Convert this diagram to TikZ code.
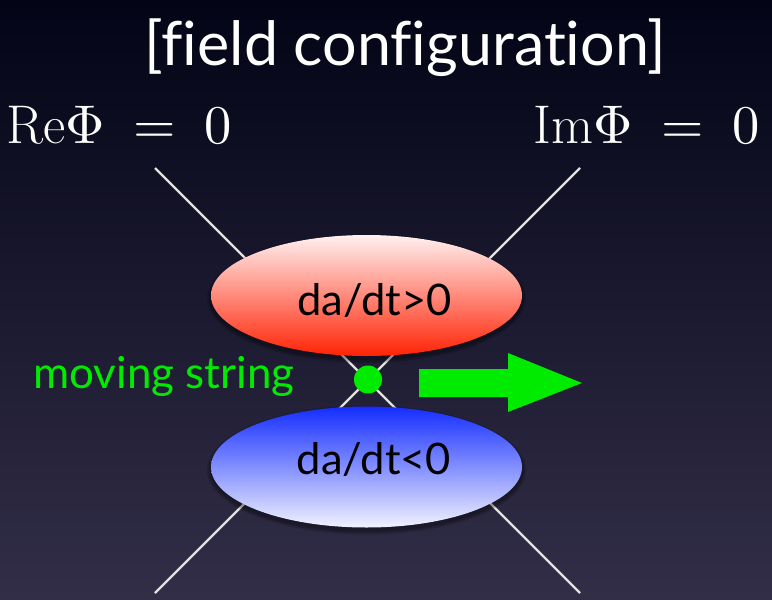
\documentclass[tikz,border=0pt]{standalone}
\usepackage{fontspec}
\usepackage{unicode-math}
\setmathfont{Latin Modern Math}
\setsansfont[Ligatures=NoCommon]{Lato}
\usetikzlibrary{shapes.geometric}
\definecolor{bgtop}{RGB}{3,4,22}
\definecolor{bgbot}{RGB}{50,46,72}
\definecolor{linec}{RGB}{225,225,225}
\definecolor{brightgreen}{RGB}{0,235,0}
\definecolor{redlight}{RGB}{255,240,240}
\definecolor{reddark}{RGB}{255,35,5}
\definecolor{bluedark}{RGB}{20,45,255}
\definecolor{bluelight}{RGB}{242,242,255}
\begin{document}
\begin{tikzpicture}[x=1pt,y=-1pt,
  fieldline/.style={draw=linec,line width=2.2pt},
  blob/.style={ellipse,minimum width=311pt,minimum height=121pt,inner sep=0pt},
  blobshadow/.style={ellipse,fill=black,fill opacity=0.14,inner sep=0pt},
  blobtext/.style={anchor=base,font=\fontsize{43.5}{47}\selectfont\sffamily,text=black},
  mathlabel/.style={anchor=base west,inner sep=0pt,text=white,font=\fontsize{54.5}{58}\selectfont}]
\useasboundingbox (0,0) rectangle (772,600);
\shade[top color=bgtop,bottom color=bgbot,middle color=bgtop!50!bgbot] (0,0) rectangle (772,600);
% title
\node[anchor=base,text=white,font=\fontsize{61}{65}\selectfont\sffamily] (title) at (405,65) {[field configuration]};
\node[mathlabel] (re) at (6,143) {$\mathrm{Re}\Phi\mskip4.5mu=\mskip4.5mu0$};
\node[mathlabel] (im) at (533,143) {$\mathrm{Im}\Phi\mskip4.5mu=\mskip4.5mu0$};
% crossing lines
\coordinate (tl) at (155,168);
\coordinate (tr) at (580,168);
\coordinate (bl) at (155,593);
\coordinate (br) at (580,593);
\draw[fieldline] (tl) -- (br);
\draw[fieldline] (tr) -- (bl);
% soft shadows
\foreach \d in {2,5,8} {
  \node[blobshadow,minimum width=311pt+\d pt,minimum height=121pt+\d pt] at (366.5,298.5) {};
  \node[blobshadow,minimum width=311pt+\d pt,minimum height=121pt+\d pt] at (366.5,470) {};
}
% ellipses
\node[blob,top color=redlight,bottom color=reddark] (pos) at (366.5,295.5) {};
\node[blob,top color=bluedark,bottom color=bluelight] (neg) at (366.5,467) {};
\node[blobtext] (postext) at (374.5,315) {da/dt>0};
\node[blobtext] (negtext) at (374,474) {da/dt<0};
% string
\node[circle,fill=brightgreen,minimum size=28pt,inner sep=0pt] (string) at (368,379.5) {};
\node[anchor=base west,inner sep=0pt,text=brightgreen,font=\fontsize{44}{48}\selectfont\sffamily] (mov) at (33,388) {moving string};
\fill[brightgreen] (419,369) -- (508,369) -- (508,353) -- (582,383) -- (508,412) -- (508,397) -- (419,397) -- cycle;
\end{tikzpicture}
\end{document}
